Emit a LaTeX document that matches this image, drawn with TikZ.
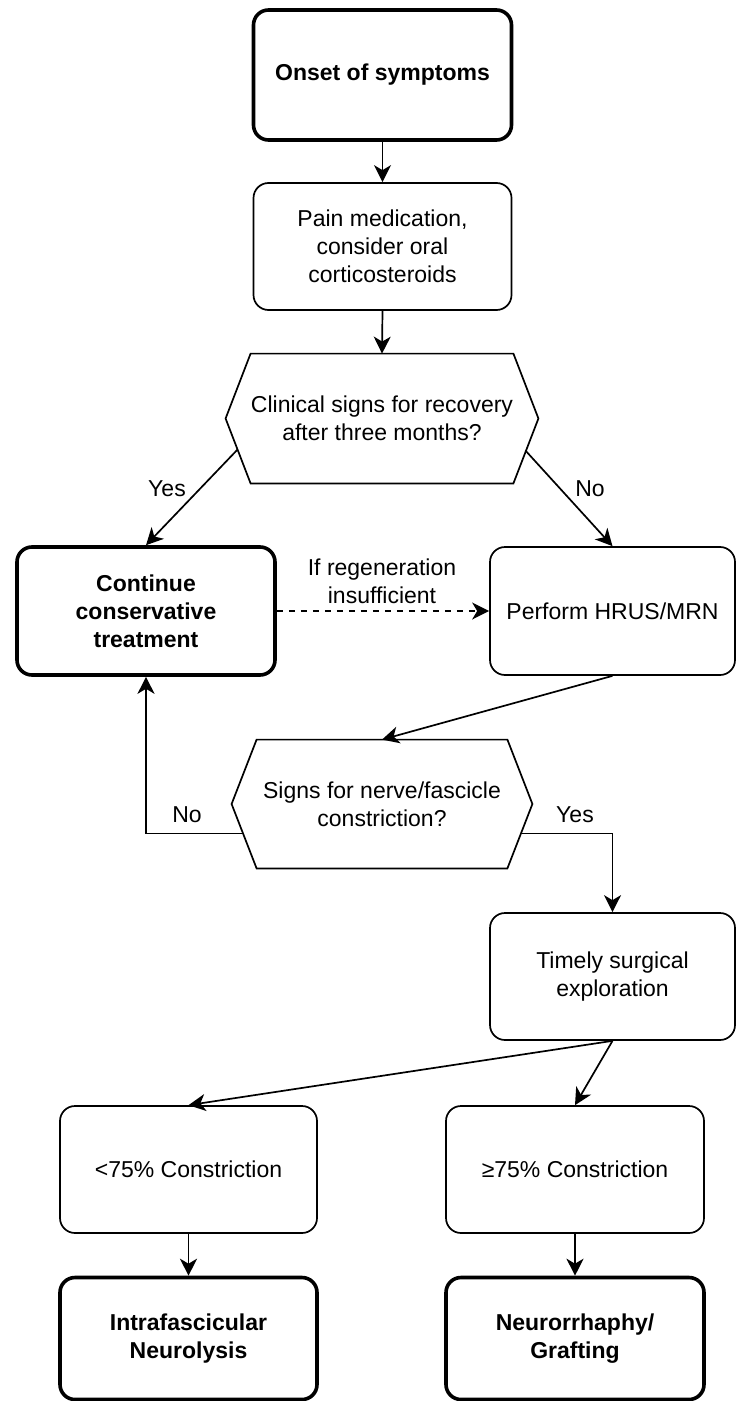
\documentclass[tikz,border=0pt]{standalone}
\usepackage{fontspec}
\setmainfont{Liberation Sans}
\usetikzlibrary{arrows.meta, calc}

\begin{document}
\begin{tikzpicture}[x=0.5pt, y=-0.5pt,
  box/.style={draw, line width=0.85pt, rounded corners=7.5pt, align=center,
    inner sep=0pt, font=\fontsize{11.5}{14}\selectfont},
  boldbox/.style={box, line width=1.8pt, font=\fontsize{11.5}{14}\selectfont\bfseries},
  ask/.style={inner sep=0pt, align=center, font=\fontsize{11.5}{14}\selectfont},
  lbl/.style={inner sep=0pt, align=center, font=\fontsize{11.5}{14}\selectfont},
  arr/.style={-{Stealth[length=8.5pt, width=8.5pt, inset=2.5pt]}, line width=0.85pt}]
  \useasboundingbox (0,0) rectangle (736,1401);

  \node[boldbox, minimum width=129pt, minimum height=65pt] (onset) at (382.5,75) {Onset of symptoms};
  \node[box, minimum width=129pt, minimum height=63.5pt] (pain) at (382.5,246.5) {Pain medication,\\consider oral\\corticosteroids};
  \node[ask, minimum width=125pt, minimum height=64.5pt] (q1) at (382,418.5) {Clinical signs for recovery\\after three months?};
  \draw[line width=0.85pt] (q1.north west) -- (q1.north east) -- ($(q1.east)+(25,0)$) -- (q1.south east)
    -- (q1.south west) -- ($(q1.west)+(-25,0)$) -- cycle;

  \node[boldbox, minimum width=129pt, minimum height=64pt] (cont) at (146,611) {Continue\\conservative\\treatment};
  \node[box, minimum width=122.5pt, minimum height=64pt] (perf) at (612.5,611) {Perform HRUS/MRN};

  \node[ask, minimum width=125pt, minimum height=64pt] (q2) at (382,804) {Signs for nerve/fascicle\\constriction?};
  \draw[line width=0.85pt] (q2.north west) -- (q2.north east) -- ($(q2.east)+(25,0)$) -- (q2.south east)
    -- (q2.south west) -- ($(q2.west)+(-25,0)$) -- cycle;

  \node[box, minimum width=122.5pt, minimum height=63.5pt] (timely) at (612.5,976.5) {Timely surgical\\exploration};
  \node[box, minimum width=128.5pt, minimum height=63.5pt] (less) at (188.5,1169.5) {<75\% Constriction};
  \node[box, minimum width=129pt, minimum height=63.5pt] (more) at (575,1169.5) {≥75\% Constriction};
  \node[boldbox, minimum width=128.5pt, minimum height=61pt] (lyse) at (188.5,1338.5) {Intrafascicular\\Neurolysis};
  \node[boldbox, minimum width=129pt, minimum height=61pt] (graft) at (575,1338.5) {Neurorrhaphy/\\Grafting};

  % edges
  \draw[arr] (onset.south) -- (pain.north);
  \draw[arr] (pain.south) -- (q1.north);
  \draw[arr] ($(q1.west)+(-13,31)$) -- (cont.north);
  \draw[arr] ($(q1.east)+(12,32)$) -- (perf.north);
  \node[lbl] (yes1) at (167,489) {Yes};
  \node[lbl] (no1) at (590,489) {No};
  \draw[arr, dash pattern=on 3pt off 3pt] (cont.east) -- (perf.west);
  \node[lbl] (regen) at (382,581) {If regeneration\\insufficient};
  \draw[arr] (perf.south) -- (q2.north);
  \draw[arr] ($(q2.west)+(-13.5,29.5)$) -| (cont.south);
  \draw[arr] ($(q2.east)+(13.5,29.5)$) -| (timely.north);
  \node[lbl] (no2) at (187,815) {No};
  \node[lbl] (yes2) at (575,815) {Yes};
  \draw[arr] (timely.south) -- (less.north);
  \draw[arr] (timely.south) -- (more.north);
  \draw[arr] (less.south) -- (lyse.north);
  \draw[arr] (more.south) -- (graft.north);
\end{tikzpicture}
\end{document}
